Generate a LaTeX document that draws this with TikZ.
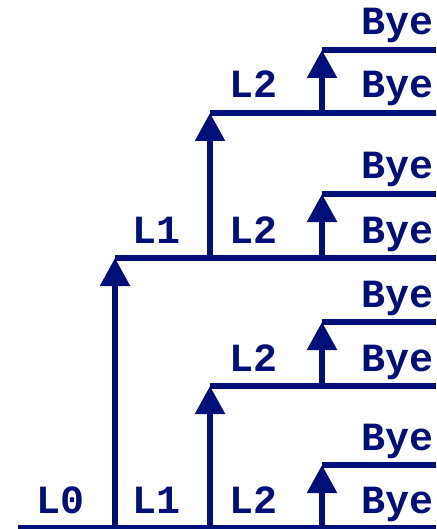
\documentclass[tikz,border=0pt]{standalone}
\usepackage{fontspec}
\setmonofont{Liberation Mono}
\usetikzlibrary{arrows.meta,positioning}
\definecolor{forkblue}{RGB}{0,16,120}

\tikzset{
	lbl/.style={font=\fontsize{20}{24}\selectfont\ttfamily\bfseries,text=forkblue,inner sep=0pt},
	flow/.style={draw,color=forkblue,line width=2.75pt},
	fork/.style={-{Triangle[width=14.5pt,length=14pt]}}
}

\begin{document}
\begin{tikzpicture}[x=0.5pt,y=-0.5pt]
		\useasboundingbox (0,0) rectangle (436,529);
		\begin{scope}
			% start points of the lines
			\coordinate (s0) at (18,528);
			\coordinate (s1) at (322,465);
			\coordinate (s2) at (210,386);
			\coordinate (s3) at (322,322);
			\coordinate (s4) at (115,258);
			\coordinate (s5) at (322,194);
			\coordinate (s6) at (210,113);
			\coordinate (s7) at (322,50);
			% end points of the lines
			\coordinate (e0) at (436,528);
			\coordinate (e1) at (436,465);
			\coordinate (e2) at (436,386);
			\coordinate (e3) at (436,322);
			\coordinate (e4) at (436,258);
			\coordinate (e5) at (436,194);
			\coordinate (e6) at (436,113);
			\coordinate (e7) at (436,50);
			% fork points
			\coordinate (f1) at (115,528);
			\coordinate (f2) at (210,528);
			\coordinate (f3) at (322,528);
			\coordinate (f4) at (322,386);
			\coordinate (f5) at (210,258);
			\coordinate (f6) at (322,258);
			\coordinate (f7) at (322,113);
			\path[flow]
				(s0) edge (e0)
				(s1) edge (e1)
				(s2) edge (e2)
				(s3) edge (e3)
				(s4) edge (e4)
				(s5) edge (e5)
				(s6) edge (e6)
				(s7) edge (e7)
				(f1) edge[fork] (s4)
				(f2) edge[fork] (s2)
				(f3) edge[fork] (s1)
				(f4) edge[fork] (s3)
				(f5) edge[fork] (s6)
				(f6) edge[fork] (s5)
				(f7) edge[fork] (s7);
			% labels
			\node(a0) [lbl,anchor=base] at (61,513) {L0};
			\node(a1) [lbl,right=0 of a0.base,anchor=base,xshift=48pt] {L1};
			\node(a2) [lbl,right=0 of a1.base,anchor=base,xshift=48pt] {L2};
			\node(c1) [lbl,above=7.5pt of s4,anchor=base,xshift=21pt] {L1};
			\node(c2) [lbl,above=7.5pt of s4,anchor=base,xshift=69pt] {L2};
			\node(d1) [lbl,above=7.5pt of s2,anchor=base,xshift=21.5pt] {L2};
			\node(d2) [lbl,above=7.5pt of s6,anchor=base,xshift=21.5pt] {L2};
			\node(b0) [lbl,above=7.5pt of e0,anchor=base east,xshift=-1pt] {Bye};
			\node(b1) [lbl,above=7.5pt of e1,anchor=base east,xshift=-1pt] {Bye};
			\node(b2) [lbl,above=7.5pt of e2,anchor=base east,xshift=-1pt] {Bye};
			\node(b3) [lbl,above=7.5pt of e3,anchor=base east,xshift=-1pt] {Bye};
			\node(b4) [lbl,above=7.5pt of e4,anchor=base east,xshift=-1pt] {Bye};
			\node(b5) [lbl,above=7.5pt of e5,anchor=base east,xshift=-1pt] {Bye};
			\node(b6) [lbl,above=7.5pt of e6,anchor=base east,xshift=-1pt] {Bye};
			\node(b7) [lbl,above=7.5pt of e7,anchor=base east,xshift=-1pt] {Bye};
		\end{scope}
	\end{tikzpicture}
\end{document}
